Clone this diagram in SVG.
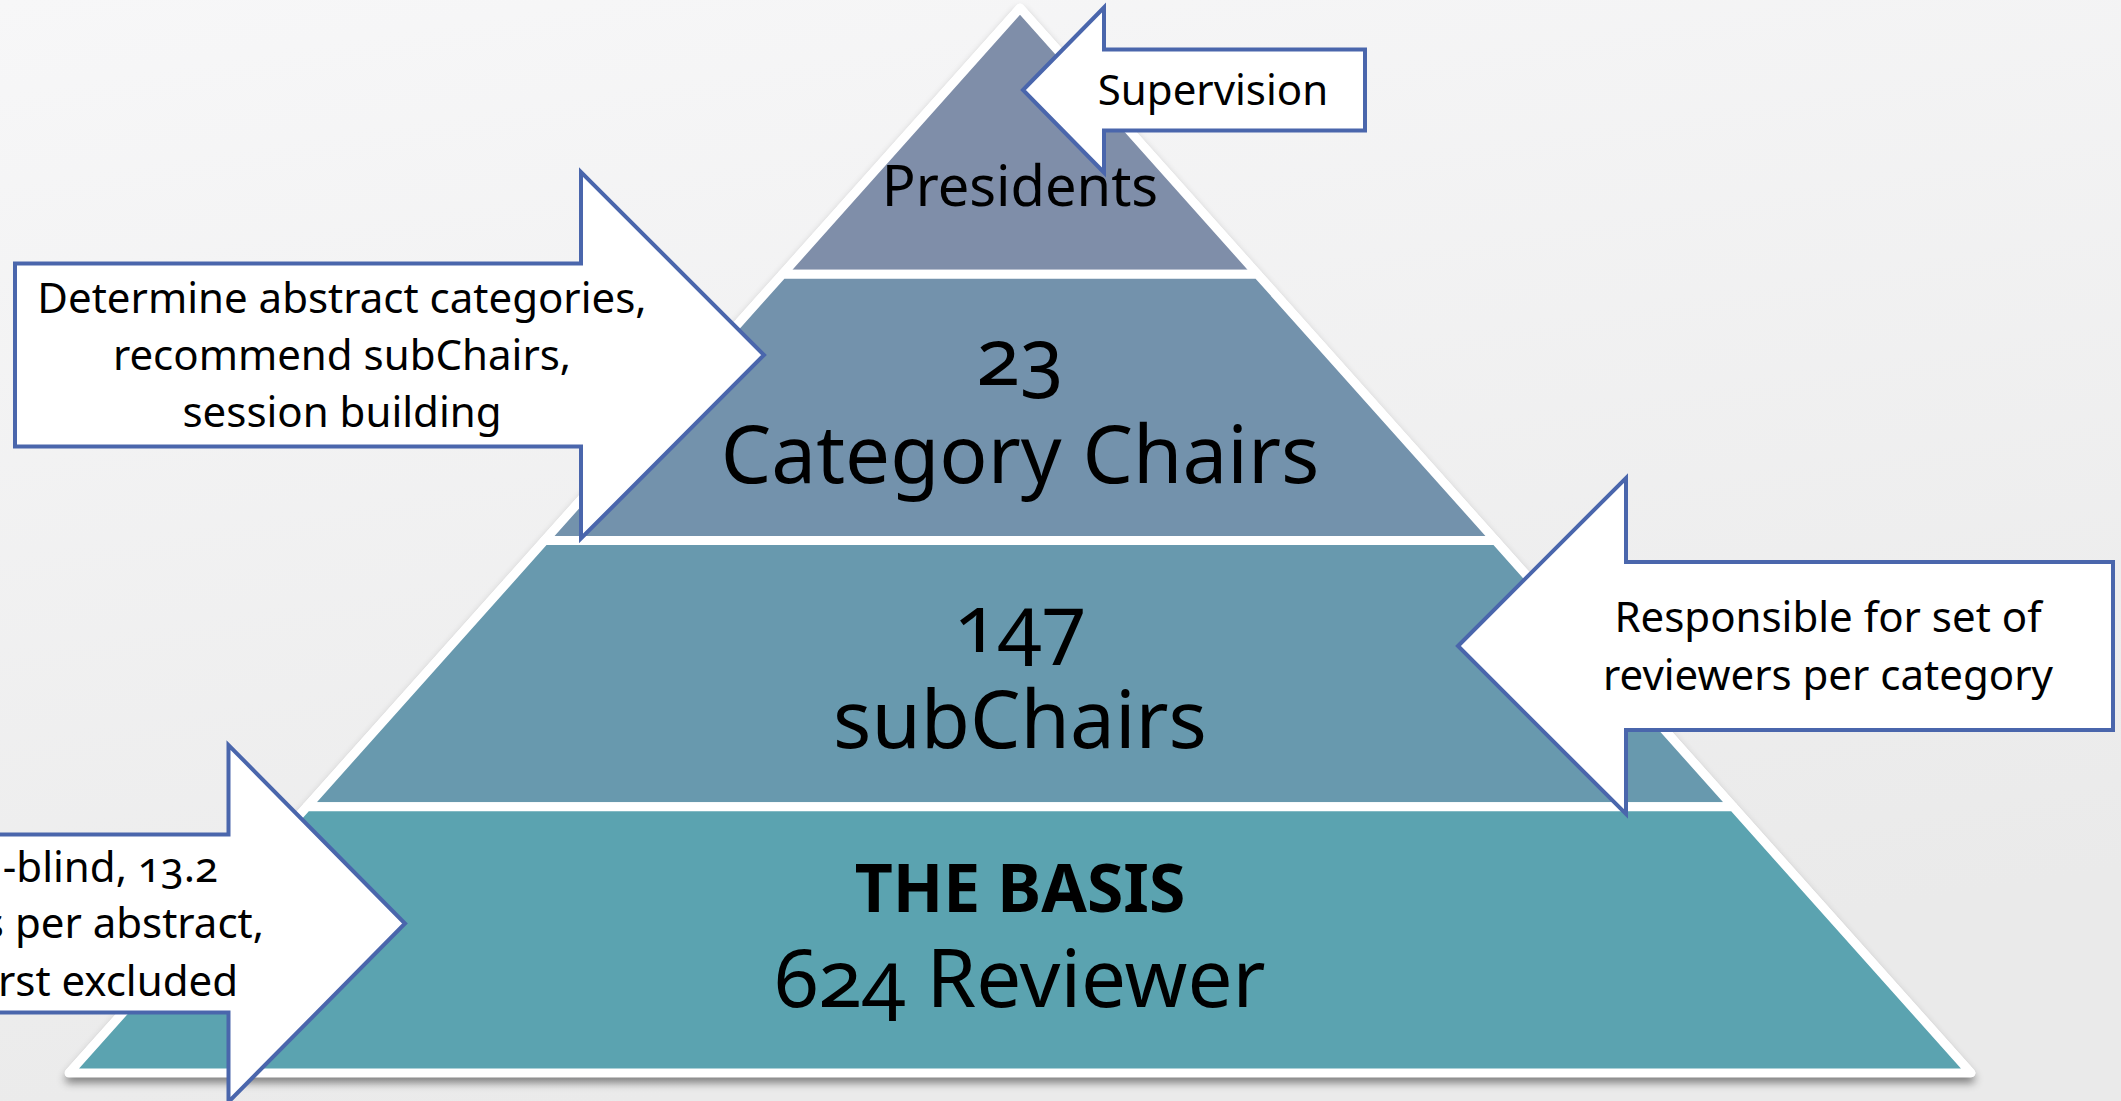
<svg xmlns="http://www.w3.org/2000/svg" width="2121" height="1101" viewBox="0 0 2121 1101">
  <defs>
    <linearGradient id="bg" x1="0" y1="0" x2="0.3" y2="1">
      <stop offset="0" stop-color="#F7F7F8"/>
      <stop offset="1" stop-color="#EAEAEA"/>
    </linearGradient>
    <filter id="shadow" x="-5%" y="-5%" width="110%" height="115%">
      <feDropShadow dx="0" dy="6" stdDeviation="4" flood-color="#000" flood-opacity="0.45"/>
    </filter>
    <style>
      text { font-family: "Noto Sans", "Open Sans", "Liberation Sans", sans-serif; fill: #000; font-variant-numeric: oldstyle-nums; font-feature-settings: "onum" 1; }
      .big { font-size: 80px; text-anchor: middle; }
      .small { font-size: 42px; text-anchor: middle; }
      .frag { font-size: 42px; text-anchor: end; }
      .layer { stroke: #FFFFFF; stroke-width: 9; stroke-linejoin: round; }
      .callout { fill: #FFFFFF; stroke: #4A66AC; stroke-width: 4; stroke-linejoin: miter; }
    </style>
  </defs>

  <rect x="0" y="0" width="2121" height="1101" fill="url(#bg)"/>

  <g id="pyramid">
    <polygon points="1020,8 1971,1073 69,1073" fill="#FFFFFF" stroke="#FFFFFF" stroke-width="8" stroke-linejoin="round" filter="url(#shadow)"/>
  </g>

  <g id="layer-presidents">
    <polygon class="layer" points="1020,8 1257.6,274.25 782.4,274.25" fill="#7F8EA9"/>
    <text x="1020" y="206" style="font-size:56px;text-anchor:middle">Presidents</text>
  </g>

  <g id="layer-category-chairs">
    <polygon class="layer" points="782.4,274.25 1257.6,274.25 1495.5,540.5 544.5,540.5" fill="#7392AC"/>
    <text class="big" x="1020" y="385">23<tspan x="1020" y="483">Category Chairs</tspan></text>
  </g>

  <g id="layer-subchairs">
    <polygon class="layer" points="544.5,540.5 1495.5,540.5 1733.2,806.75 306.8,806.75" fill="#6899AE"/>
    <text class="big" x="1020" y="652">147<tspan x="1020" y="748">subChairs</tspan></text>
  </g>

  <g id="layer-reviewers">
    <polygon class="layer" points="306.8,806.75 1733.2,806.75 1971,1073 69,1073" fill="#5BA3B0"/>
    <text class="big" x="1020" y="912"><tspan style="font-size:66px;font-weight:bold">THE BASIS</tspan><tspan x="1020" y="1007">624 Reviewer</tspan></text>
  </g>

  <g id="connectors"></g>

  <g id="callout-supervision">
    <polygon class="callout" points="1023,90 1104,7.5 1104,49.5 1365,49.5 1365,130.5 1104,130.5 1104,172.5"/>
    <text class="small" x="1213" y="105">Supervision</text>
  </g>

  <g id="callout-categories">
    <polygon class="callout" points="15,263.5 581,263.5 581,172 764,355 581,538.5 581,446.5 15,446.5"/>
    <text class="small" x="342" y="313">Determine abstract categories,<tspan x="342" y="370">recommend subChairs,</tspan><tspan x="342" y="427">session building</tspan></text>
  </g>

  <g id="callout-reviewers-set">
    <polygon class="callout" points="1458,646 1626,478 1626,562 2113,562 2113,730 1626,730 1626,814"/>
    <text class="small" x="1828" y="632">Responsible for set of<tspan x="1828" y="690">reviewers per category</tspan></text>
  </g>

  <g id="callout-review">
    <polygon class="callout" points="-300,834.5 228.5,834.5 228.5,745 405,923.5 228.5,1102 228.5,1012.5 -300,1012.5"/>
    <text class="frag" x="218" y="882">-blind, 13.2<tspan x="264" y="938">s per abstract,</tspan><tspan x="238" y="996">rst excluded</tspan></text>
  </g>
</svg>
